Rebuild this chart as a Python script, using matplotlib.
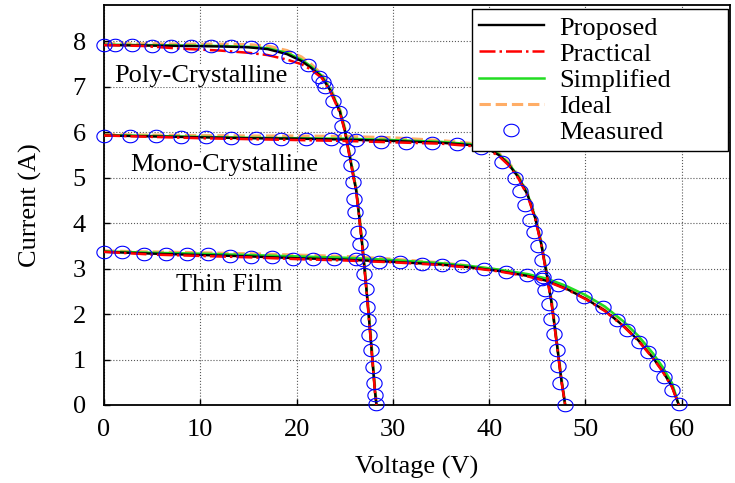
import numpy as np
import matplotlib
matplotlib.use("Agg")
import matplotlib.pyplot as plt
from matplotlib.path import Path

plt.rcParams['font.family'] = 'serif'
plt.rcParams['font.serif'] = ['Liberation Serif', 'DejaVu Serif']
plt.rcParams['font.size'] = 19

# ---- Poly-Crystalline ----
poly_v = [0, 4, 8, 12, 15, 17, 19, 20.5, 21.5, 22.6, 23.5, 24.5, 25.0, 25.4, 25.8, 26.2, 26.5, 26.8, 27.1, 27.4, 27.7, 27.95, 28.15, 28.3]
poly_proposed = [7.92, 7.91, 7.90, 7.89, 7.87, 7.83, 7.72, 7.57, 7.42, 7.22, 6.92, 6.45, 6.05, 5.60, 5.15, 4.70, 4.15, 3.55, 2.90, 2.20, 1.45, 0.80, 0.28, 0.0]
poly_practical = [7.92, 7.90, 7.84, 7.80, 7.75, 7.70, 7.60, 7.50, 7.38, 7.20, 6.90, 6.43, 6.03, 5.58, 5.13, 4.68, 4.13, 3.53, 2.88, 2.18, 1.43, 0.78, 0.27, 0.0]
poly_simplified = [7.93, 7.92, 7.91, 7.90, 7.88, 7.85, 7.75, 7.60, 7.45, 7.25, 6.95, 6.48, 6.08, 5.63, 5.18, 4.73, 4.18, 3.58, 2.93, 2.23, 1.48, 0.82, 0.30, 0.0]
poly_ideal = [7.95, 7.95, 7.94, 7.94, 7.93, 7.90, 7.80, 7.66, 7.50, 7.28, 6.98, 6.50, 6.10, 5.66, 5.21, 4.76, 4.21, 3.61, 2.96, 2.26, 1.51, 0.85, 0.32, 0.0]
poly_meas_v = [0.0, 1.1, 2.9, 5.0, 7.0, 9.0, 11.1, 13.2, 15.3, 17.2, 19.2, 21.2, 22.3, 22.7, 23.0, 23.8, 24.4, 24.7, 25.0, 25.2, 25.7, 25.9, 26.0, 26.1, 26.4, 26.6, 26.9, 27.0, 27.2, 27.3, 27.4, 27.5, 27.7, 27.9, 28.0, 28.1, 28.2]
poly_meas_i = [7.93, 7.93, 7.93, 7.91, 7.91, 7.91, 7.91, 7.91, 7.87, 7.84, 7.66, 7.48, 7.22, 7.11, 7.00, 6.70, 6.45, 6.15, 5.88, 5.60, 5.27, 4.91, 4.54, 4.25, 3.81, 3.55, 3.19, 2.89, 2.56, 2.16, 1.87, 1.54, 1.21, 0.84, 0.48, 0.22, 0.02]

# ---- Mono-Crystalline ----
mono_v = [0, 5, 10, 15, 20, 25, 30, 35, 38, 40, 41, 42, 43, 44, 44.8, 45.4, 46.0, 46.5, 47.0, 47.5, 47.9]
mono_proposed = [5.93, 5.91, 5.89, 5.87, 5.86, 5.84, 5.81, 5.77, 5.72, 5.62, 5.50, 5.30, 5.02, 4.62, 4.10, 3.55, 2.85, 2.22, 1.40, 0.55, 0.0]
mono_practical = [5.93, 5.90, 5.87, 5.85, 5.83, 5.81, 5.78, 5.75, 5.70, 5.60, 5.48, 5.28, 5.00, 4.60, 4.08, 3.53, 2.83, 2.20, 1.38, 0.53, 0.0]
mono_simplified = [5.94, 5.92, 5.90, 5.88, 5.87, 5.86, 5.83, 5.79, 5.74, 5.64, 5.52, 5.32, 5.04, 4.64, 4.12, 3.57, 2.87, 2.24, 1.42, 0.56, 0.0]
mono_ideal = [5.95, 5.94, 5.93, 5.92, 5.92, 5.91, 5.88, 5.82, 5.76, 5.66, 5.54, 5.34, 5.06, 4.66, 4.14, 3.59, 2.89, 2.26, 1.44, 0.58, 0.0]
mono_meas_v = [0.0, 2.7, 5.4, 8.0, 10.6, 13.2, 15.8, 18.4, 21.0, 23.6, 26.2, 28.8, 31.4, 34.1, 36.7, 39.2, 41.3, 42.7, 43.2, 43.7, 44.2, 44.7, 45.1, 45.5, 45.6, 45.8, 46.2, 46.4, 46.7, 47.0, 47.2, 47.4, 47.9]
mono_meas_i = [5.93, 5.92, 5.91, 5.90, 5.89, 5.88, 5.87, 5.86, 5.85, 5.85, 5.83, 5.79, 5.77, 5.77, 5.74, 5.66, 5.35, 4.99, 4.71, 4.39, 4.08, 3.80, 3.49, 3.18, 2.82, 2.53, 2.22, 1.90, 1.56, 1.21, 0.86, 0.48, 0.01]

# ---- Thin Film ----
thin_v = [0, 5, 10, 15, 20, 25, 30, 35, 38, 41, 44, 46, 48, 50, 52, 54, 55.5, 57, 58, 59, 59.7]
thin_proposed = [3.37, 3.33, 3.30, 3.27, 3.23, 3.20, 3.15, 3.09, 3.03, 2.95, 2.84, 2.73, 2.56, 2.34, 2.08, 1.73, 1.42, 1.04, 0.75, 0.40, 0.0]
thin_practical = [3.37, 3.31, 3.28, 3.25, 3.21, 3.18, 3.14, 3.08, 3.02, 2.94, 2.83, 2.72, 2.55, 2.33, 2.07, 1.72, 1.41, 1.03, 0.74, 0.39, 0.0]
thin_simplified = [3.38, 3.35, 3.33, 3.30, 3.27, 3.24, 3.19, 3.12, 3.06, 2.98, 2.88, 2.78, 2.62, 2.42, 2.17, 1.83, 1.52, 1.14, 0.84, 0.48, 0.0]
thin_ideal = [3.39, 3.37, 3.35, 3.33, 3.30, 3.27, 3.21, 3.13, 3.06, 2.97, 2.86, 2.75, 2.58, 2.36, 2.10, 1.75, 1.44, 1.06, 0.77, 0.42, 0.0]
thin_meas_v = [0.0, 1.9, 4.2, 6.4, 8.6, 10.8, 13.1, 15.3, 17.4, 19.6, 21.7, 23.9, 26.2, 28.6, 30.7, 33.0, 35.1, 37.2, 39.5, 41.7, 43.9, 45.5, 47.2, 49.8, 51.8, 53.3, 54.3, 55.6, 56.5, 57.4, 58.2, 59.0, 59.7]
thin_meas_i = [3.37, 3.36, 3.33, 3.33, 3.32, 3.32, 3.28, 3.26, 3.26, 3.22, 3.21, 3.21, 3.21, 3.15, 3.14, 3.11, 3.09, 3.05, 2.99, 2.93, 2.85, 2.77, 2.65, 2.38, 2.16, 1.87, 1.65, 1.39, 1.17, 0.89, 0.62, 0.33, 0.03]

panels = [
    (poly_v, poly_proposed, poly_practical, poly_simplified, poly_ideal, poly_meas_v, poly_meas_i),
    (mono_v, mono_proposed, mono_practical, mono_simplified, mono_ideal, mono_meas_v, mono_meas_i),
    (thin_v, thin_proposed, thin_practical, thin_simplified, thin_ideal, thin_meas_v, thin_meas_i),
]
panel_names = ['Poly-Crystalline', 'Mono-Crystalline', 'Thin Film']
name_pos = [(1.1, 7.25), (2.7, 5.27), (7.5, 2.64)]

# slightly flattened circle marker
t = np.linspace(0, 2 * np.pi, 41)
ellipse = Path(np.column_stack([np.cos(t), 0.82 * np.sin(t)]))

fig = plt.figure(figsize=(7.35, 4.83), dpi=100)
ax = fig.add_axes([0.1415, 0.1615, 0.8515, 0.828])

for k, (v, p_prop, p_prac, p_simp, p_ideal, mv, mi) in enumerate(panels):
    lab = k == 0
    ax.plot(v, p_prop, color='black', lw=1.7, zorder=3, label='Proposed' if lab else None)
    ax.plot(v, p_prac, color='red', lw=1.8, ls='-.', zorder=4, label='Practical' if lab else None)
    ax.plot(v, p_simp, color='#22dd22', lw=1.8, zorder=2, label='Simplified' if lab else None)
    ax.plot(v, p_ideal, color='#ffad66', lw=2.2, ls='--', zorder=1, label='Ideal' if lab else None)
    ax.plot(mv, mi, ls='none', marker=ellipse, ms=11, mfc='none', mec='blue', mew=0.8,
            zorder=5, clip_on=False, label='Measured' if lab else None)

for name, (x, y) in zip(panel_names, name_pos):
    ax.text(x, y, name, ha='left', va='center', zorder=6,
            bbox=dict(facecolor='white', edgecolor='none', pad=0.5))

ax.set_xlim(0, 65)
ax.set_ylim(0, 8.8)
ax.set_xticks(np.arange(0, 61, 10))
ax.set_yticks(np.arange(0, 9, 1))
ax.grid(True, color='0.35', ls=':', lw=0.8)
ax.tick_params(direction='in', length=4, width=1)
ax.tick_params(axis='x', pad=10)
ax.tick_params(axis='y', pad=13)
for s in ax.spines.values():
    s.set_linewidth(1.3)
ax.set_xlabel('Voltage (V)', labelpad=11)
ax.set_ylabel('Current (A)', labelpad=22)

leg = ax.legend(loc='upper right', bbox_to_anchor=(0.588, 0.0, 0.409, 0.989), mode='expand',
                fancybox=False, edgecolor='black', framealpha=1,
                handlelength=2.46, labelspacing=0.1, borderpad=0.25, borderaxespad=0.0,
                handletextpad=0.6)
leg.get_frame().set_linewidth(1.0)
leg.set_zorder(10)

fig.savefig('out.png', dpi=100)
